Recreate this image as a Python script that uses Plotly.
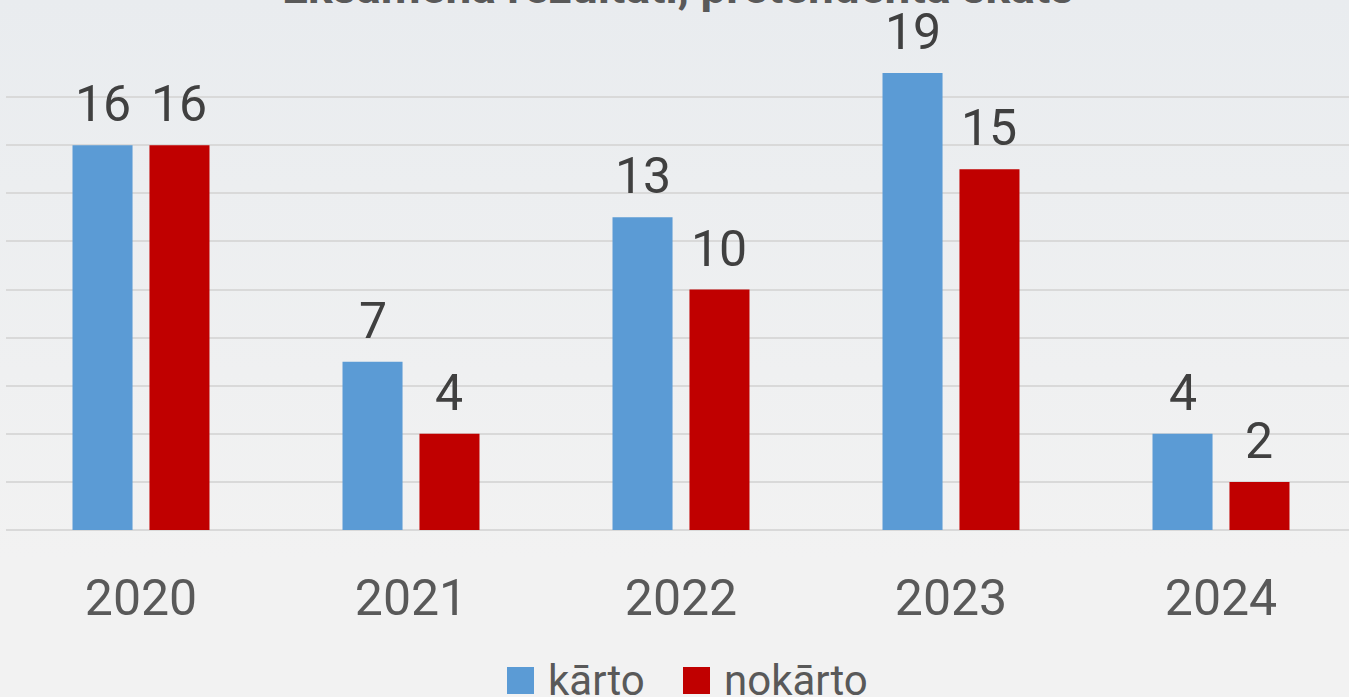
import base64
import plotly.graph_objects as go

# ---- data ----
years = ["2020", "2021", "2022", "2023", "2024"]
series_names = ["kārto", "nokārto"]
karto = [16, 7, 13, 19, 4]
nokarto = [16, 4, 10, 15, 2]
title_text = "Eksāmena rezultāti, pretendenta skats"

colors = ["#5B9BD5", "#C00000"]
W, H = 1349, 697
ML, MR, MT, MB = 6, 0, 49, 167
PW, PH = W - ML - MR, H - MT - MB
BARGAP = 0.43
BARGROUPGAP = 0.22
FONT = "Roboto, 'Noto Sans', sans-serif"

fig = go.Figure()
for name, vals, col in zip(series_names, [karto, nokarto], colors):
    fig.add_trace(go.Bar(x=years, y=vals, name=name, marker=dict(color=col, line=dict(width=0)),
                         showlegend=False))

# data labels via annotations through the axis scales
offset = (1 - BARGAP) / 4
for si, vals in enumerate([karto, nokarto]):
    sign = -1 if si == 0 else 1
    for i, v in enumerate(vals):
        fig.add_annotation(x=i + sign * offset, y=v, xref="x", yref="y", text=str(v),
                           showarrow=False, yanchor="bottom", yshift=10,
                           font=dict(family=FONT, size=50, color="#404040"))

# title
fig.add_annotation(x=0.5, y=1, xref="paper", yref="paper", text="<b>" + title_text + "</b>",
                   showarrow=False, yanchor="bottom", yshift=33,
                   font=dict(family=FONT, size=46, color="#595959"))

# manual legend (large square swatches)
sq = 27
leg_items_x = [507, 683]
for name, col, lx in zip(series_names, colors, leg_items_x):
    x0 = (lx - ML) / PW
    x1 = (lx + sq - ML) / PW
    y1 = -(667 - (MT + PH)) / PH
    y0 = -(667 + sq - (MT + PH)) / PH
    fig.add_shape(type="rect", xref="paper", yref="paper", x0=x0, x1=x1, y0=y0, y1=y1,
                  fillcolor=col, line=dict(width=0))
    fig.add_annotation(x=(lx + sq + 12 - ML) / PW, y=(y0 + y1) / 2, xref="paper", yref="paper",
                       text=name, showarrow=False, xanchor="left", yanchor="middle",
                       font=dict(family=FONT, size=42, color="#595959"))

# gradient background as svg image
svg = f'''<svg xmlns="http://www.w3.org/2000/svg" width="{W}" height="{H}" viewBox="0 0 {W} {H}" preserveAspectRatio="none">
<defs><linearGradient id="g" x1="0" y1="0" x2="0" y2="1">
<stop offset="0" stop-color="#E9ECEF"/><stop offset="0.8" stop-color="#F2F2F2"/><stop offset="1" stop-color="#F2F2F2"/></linearGradient></defs>
<rect x="0" y="0" width="{W}" height="{H}" fill="url(#g)"/></svg>'''
src = "data:image/svg+xml;base64," + base64.b64encode(svg.encode()).decode()
fig.add_layout_image(source=src, xref="paper", yref="paper", x=-ML / PW, y=1 + MT / PH,
                     sizex=W / PW, sizey=H / PH, xanchor="left", yanchor="top",
                     sizing="stretch", layer="below")

fig.update_layout(
    width=W, height=H,
    margin=dict(l=ML, r=MR, t=MT, b=MB, pad=0),
    paper_bgcolor="#F2F2F2", plot_bgcolor="rgba(0,0,0,0)",
    barmode="group", bargap=BARGAP, bargroupgap=BARGROUPGAP,
    showlegend=False,
    xaxis=dict(range=[-0.5, -0.5 + PW / 270], showgrid=False, zeroline=False, showline=False,
               tickfont=dict(family=FONT, size=50, color="#595959"), ticks="",
               ticklabelstandoff=34, fixedrange=True),
    yaxis=dict(range=[0, 20], dtick=2, showgrid=True, gridcolor="#D9D9D9", gridwidth=2,
               zeroline=True, zerolinecolor="#D9D9D9", zerolinewidth=2,
               showticklabels=False, ticks="", showline=False, fixedrange=True),
)

fig.write_html("out.html", config={"displayModeBar": False},
               post_script="document.body.style.margin='0';document.body.style.overflow='hidden';")
